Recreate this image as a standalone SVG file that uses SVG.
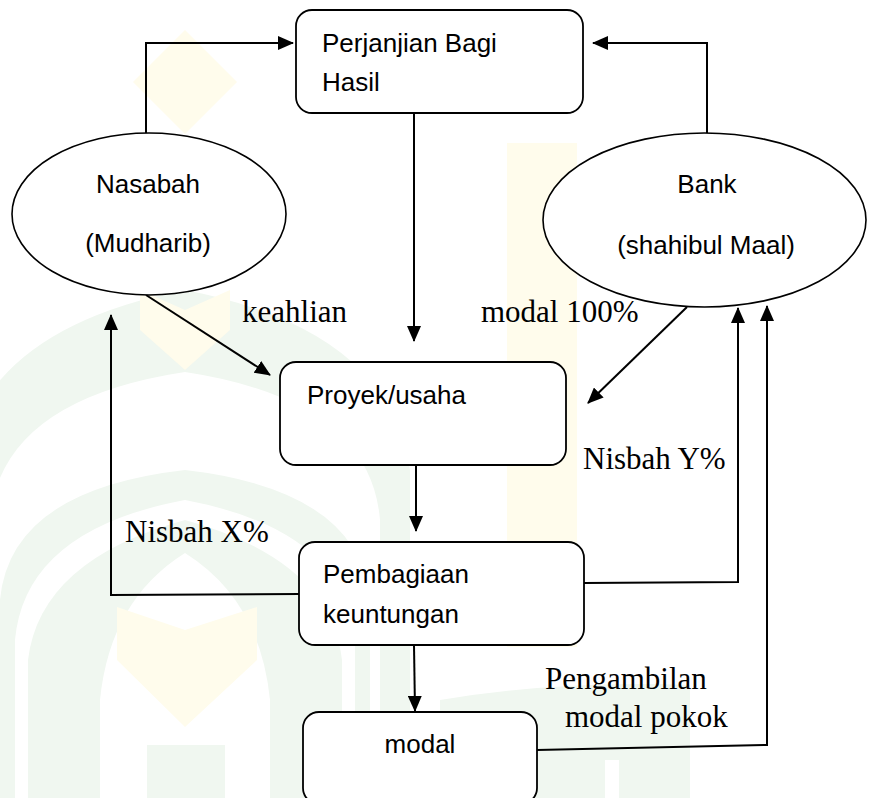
<svg xmlns="http://www.w3.org/2000/svg" width="872" height="798" viewBox="0 0 872 798">
<style>
.box{fill:#fff;stroke:#000;stroke-width:1.8}
.ell{fill:#fff;stroke:#000;stroke-width:1.6}
.lbl{font-family:"Liberation Sans",Arial,sans-serif;font-size:26px;fill:#000}
.ser{font-family:"Liberation Serif","Times New Roman",serif;font-size:31px;fill:#000}
.ln{fill:none;stroke:#000;stroke-width:2}
.wg{fill:#f0f7f0}
.ww{fill:#fff}
.wy{fill:#fffcec}
</style>
<defs>
<marker id="ah" markerUnits="userSpaceOnUse" markerWidth="16" markerHeight="14" refX="15" refY="7" orient="auto">
<path d="M0,0 L16,7 L0,14 Z" fill="#000"/>
</marker>
</defs>
<rect width="872" height="798" fill="#fff"/>
<g id="watermark">
<path class="wy" d="M185,30 L237,82 L185,134 L133,82 Z"/>
<path class="wg" d="M-40,798 L-40,470 Q-20,330 185,290 Q390,330 410,470 L410,798 Z"/>
<path class="ww" d="M-10,798 L-10,520 Q0,400 185,372 Q370,400 380,520 L380,798 Z"/>
<path class="wg" d="M0,798 L0,600 Q10,490 185,470 Q360,490 370,600 L370,798 Z"/>
<path class="ww" d="M15,798 L15,640 Q25,530 185,500 Q345,530 355,640 L355,798 Z"/>
<path class="wg" d="M28,798 L28,660 Q40,560 185,520 Q330,560 342,660 L342,798 Z"/>
<path class="ww" d="M100,798 L100,700 Q110,600 185,553 Q260,600 270,700 L270,798 Z"/>
<path class="wy" d="M140,290 L185,310 L230,290 L230,330 L185,370 L140,330 Z"/>
<path class="wy" d="M117,607 L185,630 L257,607 L257,660 L185,727 L117,660 Z"/>
<rect class="wg" x="147" y="745" width="78" height="53"/>
<rect class="wy" x="507" y="143" width="70" height="504"/>
<path class="wg" d="M440,798 L440,700 Q560,680 690,685 L690,798 Z"/>
<rect class="ww" x="605" y="760" width="14" height="38"/>
</g>
<g id="connectors">
<polyline class="ln" points="146,133 146,43 293,43" marker-end="url(#ah)"/>
<polyline class="ln" points="707,133 707,43 593,43" marker-end="url(#ah)"/>
<line class="ln" x1="414" y1="113" x2="414" y2="341" marker-end="url(#ah)"/>
<line class="ln" x1="146" y1="295" x2="270" y2="375" marker-end="url(#ah)"/>
<line class="ln" x1="687" y1="307" x2="588" y2="403" marker-end="url(#ah)"/>
<line class="ln" x1="416" y1="465" x2="416" y2="531" marker-end="url(#ah)"/>
<polyline class="ln" points="300,594 111,595 111,315" marker-end="url(#ah)"/>
<polyline class="ln" points="584,583 738,582 738,308" marker-end="url(#ah)"/>
<line class="ln" x1="414" y1="645" x2="415" y2="711" marker-end="url(#ah)"/>
<polyline class="ln" points="537,750 767,745 767,306" marker-end="url(#ah)"/>
</g>
<g id="perjanjian">
<rect class="box" x="296" y="10" width="287" height="103" rx="16"/>
<text class="lbl" x="322" y="52">Perjanjian Bagi</text>
<text class="lbl" x="322" y="91">Hasil</text>
</g>
<g id="nasabah">
<ellipse class="ell" cx="149" cy="214" rx="137" ry="81"/>
<text class="lbl" x="148" y="193" text-anchor="middle">Nasabah</text>
<text class="lbl" x="148" y="252" text-anchor="middle">(Mudharib)</text>
</g>
<g id="bank">
<ellipse class="ell" cx="704.5" cy="220" rx="161.5" ry="87"/>
<text class="lbl" x="707" y="193" text-anchor="middle">Bank</text>
<text class="lbl" x="706" y="254" text-anchor="middle">(shahibul Maal)</text>
</g>
<g id="proyek">
<rect class="box" x="280" y="362" width="286" height="103" rx="16"/>
<text class="lbl" x="307" y="404">Proyek/usaha</text>
</g>
<g id="pembagiaan">
<rect class="box" x="299" y="542" width="285" height="103" rx="16"/>
<text class="lbl" x="323" y="583">Pembagiaan</text>
<text class="lbl" x="323" y="623">keuntungan</text>
</g>
<g id="modal">
<rect class="box" x="303" y="712" width="234" height="92" rx="16"/>
<text class="lbl" x="420" y="753" text-anchor="middle">modal</text>
</g>
<g id="labels">
<text class="ser" x="242" y="322">keahlian</text>
<text class="ser" x="481" y="322">modal 100%</text>
<text class="ser" x="583" y="469">Nisbah Y%</text>
<text class="ser" x="125" y="542">Nisbah X%</text>
<text class="ser" x="545" y="689">Pengambilan</text>
<text class="ser" x="565" y="727">modal pokok</text>
</g>
</svg>
